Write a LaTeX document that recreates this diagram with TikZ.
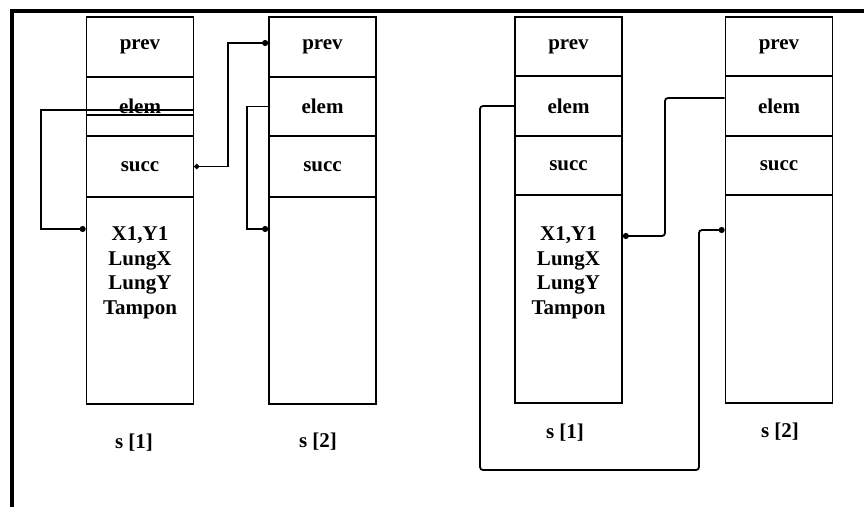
\documentclass[tikz,border=0pt]{standalone}
\usepackage{fontspec}
\setmainfont{Liberation Serif}
\usetikzlibrary{arrows.meta,calc}

\begin{document}
\begin{tikzpicture}[
  x=1pt, y=-1pt,
  cell/.style  = {draw, line width=1.7pt, minimum width=107pt,
                  inner sep=0pt, font=\fontsize{21}{24}\selectfont\bfseries},
  datatxt/.style = {align=center, font=\fontsize{21}{24.5}\selectfont\bfseries},
  slabel/.style  = {font=\fontsize{21}{24}\selectfont\bfseries},
  ptr/.style   = {-{Circle[length=6pt]}, line width=1.8pt},
  ptrs/.style  = {{Circle[length=5pt]}-{Circle[length=6pt]}, line width=1.8pt},
  frame/.style = {line width=4pt},
]
\useasboundingbox (0,0) rectangle (864,506);
\draw[frame] (12,530) -- (12,11) -- (890,11);

% left pair
\node[cell, minimum height=60pt] (p1) at (140,47)    {prev};
\node[cell, minimum height=59pt] (e1) at (140,106.5) {elem};
\node[cell, minimum height=61pt] (s1) at (140,166.5) {succ};
\node[cell, minimum height=207pt] (d1) at (140,300.5) {};
\node[datatxt] (t1) at (140,273) {X1,Y1\\LungX\\LungY\\Tampon};
\draw[line width=1.7pt] (e1.west |- 0,115) -- (e1.east |- 0,115);

\node[cell, minimum height=60pt] (p2) at (322.5,47)    {prev};
\node[cell, minimum height=59pt] (e2) at (322.5,106.5) {elem};
\node[cell, minimum height=61pt] (s2) at (322.5,166.5) {succ};
\node[cell, minimum height=207pt] (d2) at (322.5,300.5) {};

\node[slabel] (l1) at (134,443) {s [1]};
\node[slabel] (l2) at (318,442) {s [2]};

\draw[ptr]  ($(e1.east)+(0,3.5)$) -| (41,229) -- (d1.west |- 0,229);
\draw[ptrs] (s1.east) -| (228,43) -- (p2.west |- 0,43);
\draw[ptr]  (e2.west) -| (247,229) -- (d2.west |- 0,229);

% right pair
\node[cell, minimum height=59pt] (p3) at (568.5,46.5)  {prev};
\node[cell, minimum height=60pt] (e3) at (568.5,106)   {elem};
\node[cell, minimum height=59pt] (s3) at (568.5,165.5) {succ};
\node[cell, minimum height=208pt] (d3) at (568.5,299)  {};
\node[datatxt] (t3) at (568.5,273) {X1,Y1\\LungX\\LungY\\Tampon};

\node[cell, minimum height=59pt] (p4) at (779,46.5)  {prev};
\node[cell, minimum height=60pt] (e4) at (779,106)   {elem};
\node[cell, minimum height=59pt] (s4) at (779,165.5) {succ};
\node[cell, minimum height=208pt] (d4) at (779,299)  {};

\node[slabel] (l3) at (565,433) {s [1]};
\node[slabel] (l4) at (780,432) {s [2]};

\draw[ptr, rounded corners=3pt] (e3.west) -| (480,470) -| (699,230)
  -- (d4.west |- 0,230);
\draw[ptr, rounded corners=3pt] (e4.west |- 0,98) -| (665,236)
  -- (d3.east |- 0,236);
\end{tikzpicture}
\end{document}
